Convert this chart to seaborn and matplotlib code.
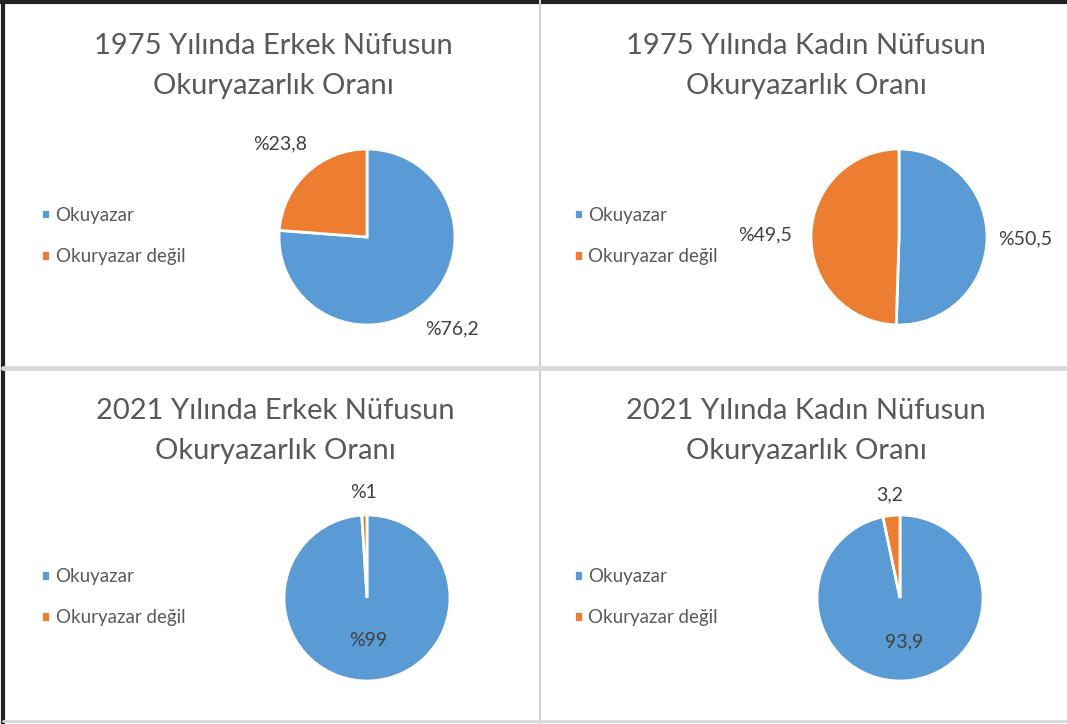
import numpy as np
import matplotlib.pyplot as plt
import seaborn as sns
from matplotlib.lines import Line2D

# ---------------------------------
# Data
# ---------------------------------

categories = ["Okuyazar", "Okuryazar değil"]

titles = [
    "1975 Yılında Erkek Nüfusun\nOkuryazarlık Oranı",
    "1975 Yılında Kadın Nüfusun\nOkuryazarlık Oranı",
    "2021 Yılında Erkek Nüfusun\nOkuryazarlık Oranı",
    "2021 Yılında Kadın Nüfusun\nOkuryazarlık Oranı",
]

erkek_1975 = [76.2, 23.8]
kadin_1975 = [50.5, 49.5]
erkek_2021 = [99, 1]
kadin_2021 = [93.9, 3.2]

values = [erkek_1975, kadin_1975, erkek_2021, kadin_2021]
label_prefix = ["%", "%", "%", ""]

# ---------------------------------
# Style
# ---------------------------------

sns.set_theme(style="white")
plt.rcParams["font.family"] = ["Lato", "DejaVu Sans"]

colors = ["#5B9BD5", "#ED7D31"]
W, H = 1067, 724

# pie centre (px), radius (px), label distances per slice
pie_pos = [
    (367, 237, 88, [1.42, 1.45]),
    (899, 237, 88, [1.43, 1.52]),
    (367, 598, 83, [0.51, 1.27]),
    (900, 598, 83, [0.53, 1.25]),
]
title_pos = [(273, 66), (806, 66), (275, 431), (806, 431)]
legend_pos = [(33, 236), (566, 236), (33, 597), (566, 597)]

fig = plt.figure(figsize=(W / 100, H / 100), dpi=100)

for i in range(4):
    cx, cy, r, dists = pie_pos[i]
    ax = fig.add_axes([(cx - r) / W, (H - cy - r) / H, 2 * r / W, 2 * r / H])
    wedges, _ = ax.pie(
        values[i],
        colors=colors,
        startangle=90,
        counterclock=False,
        radius=1,
        wedgeprops=dict(edgecolor="white", linewidth=2),
    )
    ax.set_xlim(-1, 1)
    ax.set_ylim(-1, 1)
    ax.set_aspect("equal")
    ax.axis("off")

    # data labels at the middle angle of each wedge
    for w, v, d in zip(wedges, values[i], dists):
        ang = np.deg2rad((w.theta1 + w.theta2) / 2)
        txt = label_prefix[i] + f"{v:g}".replace(".", ",")
        ax.text(d * np.cos(ang), d * np.sin(ang), txt,
                ha="center", va="center", fontsize=14, color="#404040")

    tx, ty = title_pos[i]
    fig.text(tx / W, 1 - ty / H, titles[i], ha="center", va="center",
             fontsize=21, color="#595959", linespacing=1.62)

    lx, ly = legend_pos[i]
    ax.legend(wedges, categories, loc="center left",
              bbox_to_anchor=(lx / W, 1 - ly / H),
              bbox_transform=fig.transFigure, frameon=False,
              handlelength=0.5, handleheight=0.5, handletextpad=0.3,
              labelspacing=1.3, fontsize=13.5, labelcolor="#595959",
              borderaxespad=0)

# ---------------------------------
# Panel borders
# ---------------------------------

def fig_line(x, y, color, lw):
    fig.add_artist(Line2D(np.array(x) / W, 1 - np.array(y) / H,
                          color=color, linewidth=lw))

fig_line([0, W], [1.5, 1.5], "#222222", 3)
fig_line([3, 3], [0, H], "#222222", 3)
fig_line([540, 540], [0, H], "#d0d0d0", 1.5)
fig_line([3, W], [368, 368], "#d9d9d9", 3.5)
fig_line([3, W], [721, 721], "#d9d9d9", 2)

plt.savefig("out.png", dpi=100, facecolor="white")
